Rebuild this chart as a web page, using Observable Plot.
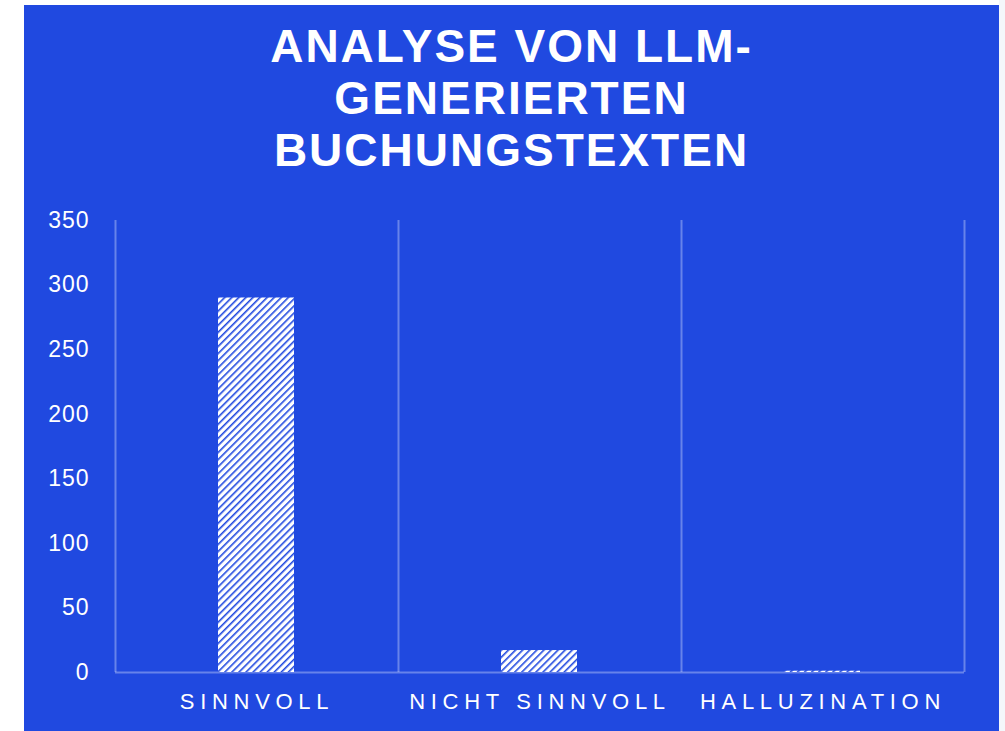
<!DOCTYPE html>
<html><head><meta charset="utf-8">
<script src="https://cdn.jsdelivr.net/npm/d3@7"></script>
<script src="https://cdn.jsdelivr.net/npm/@observablehq/plot@0.6"></script>
<style>
html,body{margin:0;padding:0;background:#fff;width:1005px;height:731px;overflow:hidden}
#edge{position:absolute;left:999px;top:0;width:6px;height:731px;background:#f4f6fa}
#panel{position:absolute;left:24px;top:5px;width:975px;height:726px;background:#2049e0}
#title{position:absolute;left:0;top:15px;width:975px;text-align:center;color:#fff;font:bold 46px "Liberation Sans",Arial,sans-serif;letter-spacing:2px;line-height:52px;margin:0}
#chart{position:absolute;left:0;top:195px}
g[aria-label="y-axis tick label"] text{letter-spacing:1px}
g[aria-label="x-axis tick label"] text{letter-spacing:5.7px}
</style></head>
<body>
<div id="edge"></div>
<div id="panel">
  <div id="title">ANALYSE VON LLM-<br>GENERIERTEN<br>BUCHUNGSTEXTEN</div>
  <div id="chart"></div>
</div>
<script>
const categories = ["SINNVOLL", "NICHT SINNVOLL", "HALLUZINATION"];
const counts = [290, 17, 1];
const yTicks = [0, 50, 100, 150, 200, 250, 300, 350];

const data = categories.map((c, i) => ({i, category: c, value: counts[i]}));
const bounds = d3.range(categories.length + 1);
const xTicks = categories.map((_, i) => i + 0.5);

const gridColor = "rgba(255,255,255,0.32)";

const plot = Plot.plot({
  width: 975,
  height: 531,
  marginLeft: 91,
  marginRight: 35,
  marginTop: 20,
  marginBottom: 59,
  style: {background: "transparent", color: "#fff", fontFamily: "'Liberation Sans', Arial, sans-serif"},
  x: {type: "linear", domain: [0, categories.length]},
  y: {domain: [0, 350]},
  marks: [
    Plot.ruleX(bounds, {stroke: gridColor, strokeWidth: 2}),
    Plot.ruleY([0], {stroke: gridColor, strokeWidth: 2}),
    Plot.rectY(data, {x1: "i", x2: d => d.i + 1, y: "value", fill: "url(#hatch)", insetLeft: 103, insetRight: 104}),
    Plot.axisY({ticks: yTicks, tickSize: 0, tickPadding: 26, fontSize: 23, fill: "#fff", label: null}),
    Plot.axisX({ticks: xTicks, tickFormat: d => categories[Math.floor(d)], tickSize: 0, tickPadding: 21, fontSize: 22, fill: "#fff", label: null})
  ]
});

const defs = d3.select(plot).insert("defs", ":first-child");
const pat = defs.append("pattern")
  .attr("id", "hatch")
  .attr("patternUnits", "userSpaceOnUse")
  .attr("width", 5).attr("height", 5)
  .attr("patternTransform", "rotate(45)");
pat.append("rect").attr("width", 5).attr("height", 5).attr("fill", "#fff");
pat.append("line").attr("x1", 0.8).attr("y1", 0).attr("x2", 0.8).attr("y2", 5)
  .attr("stroke", "#2049e0").attr("stroke-width", 1.6);

document.getElementById("chart").appendChild(plot);
</script>
</body></html>
